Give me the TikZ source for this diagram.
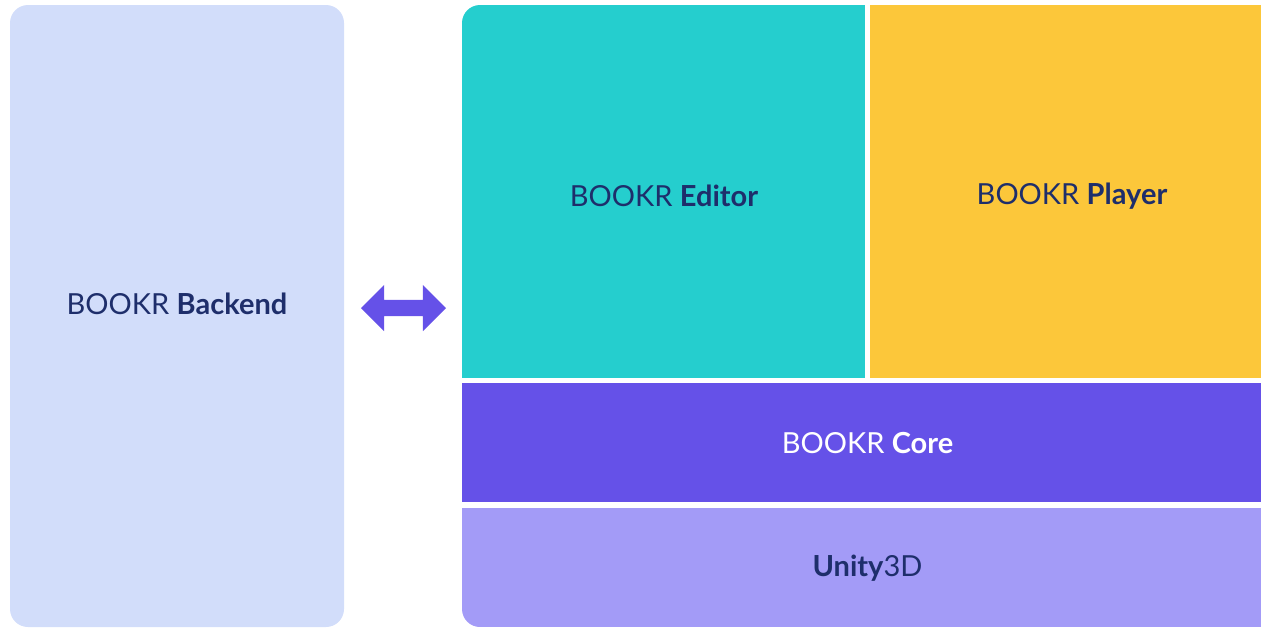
\documentclass[tikz,border=0pt]{standalone}
\usepackage{fontspec}
\setmainfont{Lato}
\usetikzlibrary{shapes.arrows}

\definecolor{backendcol}{HTML}{D2DDFA}
\definecolor{editorcol}{HTML}{25CECE}
\definecolor{playercol}{HTML}{FCC73A}
\definecolor{corecol}{HTML}{6551E8}
\definecolor{unitycol}{HTML}{A39BF7}
\definecolor{navy}{HTML}{1E2E6B}

\begin{document}
\begin{tikzpicture}[x=1pt,y=-1pt,
        block/.style = {rectangle,inner sep=0pt},
        label/.style = {text=navy,font=\fontsize{29}{34}\selectfont}
        ]

        \useasboundingbox (0,0) rectangle (1261,627);

        %Backend
        \node[block,fill=backendcol,rounded corners=18pt,
              minimum width=334pt,minimum height=622pt] (backend) at (177,316) {};
        \node[label] (backendtext) at (177,304) {BOOKR \textbf{Backend}};

        %Bloecke rechts
        \begin{scope}
        \clip[rounded corners=18pt] (462,5) rectangle (1290,627);
        \node[block,fill=editorcol,minimum width=403pt,minimum height=373pt]
              (editor) at (663.5,191.5) {};
        \node[block,fill=playercol,minimum width=403pt,minimum height=373pt]
              (player) at (1071.5,191.5) {};
        \node[block,fill=corecol,minimum width=811pt,minimum height=119pt]
              (core) at (867.5,442.5) {};
        \node[block,fill=unitycol,minimum width=811pt,minimum height=119pt]
              (unity) at (867.5,567.5) {};
        \end{scope}
        \node[label] (editortext) at (664,196) {BOOKR \textbf{Editor}};
        \node[label] (playertext) at (1072,196) {BOOKR \textbf{Player}};
        \node[label,text=white] (coretext) at (867.5,443) {BOOKR \textbf{Core}};
        \node[label] (unitytext) at (867.5,568) {\textbf{Unity}3D};

        %Pfeil
        \node[double arrow,fill=corecol,inner sep=0pt,text height=8pt,text depth=8pt,
              minimum width=46pt,minimum height=85pt,double arrow head extend=15pt]
              (link) at (403.5,308) {};

\end{tikzpicture}
\end{document}
